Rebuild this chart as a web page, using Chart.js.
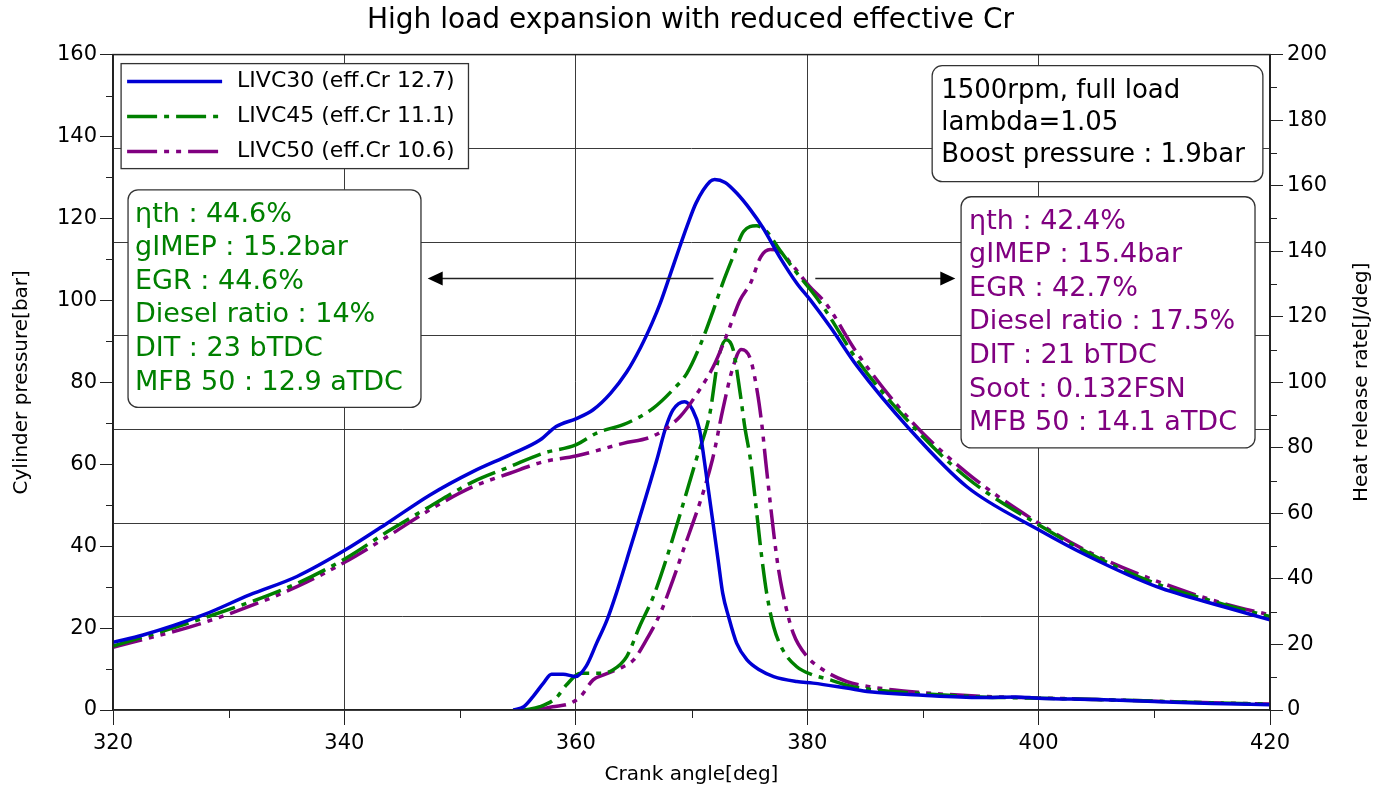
<!DOCTYPE html>
<html>
<head>
<meta charset="utf-8">
<title>High load expansion with reduced effective Cr</title>
<script src="https://cdn.jsdelivr.net/npm/chart.js@4.4.1/dist/chart.umd.min.js"></script>
<style>
    html, body { margin: 0; padding: 0; background: #fff; }
    canvas { display: block; }
</style>
</head>
<body>
<canvas id="chart" width="1381" height="791"></canvas>
<script>
// Cylinder pressure [bar] vs crank angle [deg]
var P30_DEG = [320, 322.6, 327.8, 331.8, 335.9, 340.1, 343.7, 347.4, 351.1, 354.3, 356.9, 358.3, 360.1, 361.5, 363, 364.4, 365.6, 366.6, 367.3, 368.1, 369, 369.6, 370.4, 371.6, 372, 372.9, 373.9, 375.1, 376.2, 377.6, 379.1, 380.3, 382, 384.3, 388.9, 393.8, 400, 404.4, 410.2, 416, 420];
var P30_BAR = [16.5, 18.3, 23.2, 28.1, 32.6, 39.1, 45.6, 52.5, 58.2, 62.3, 65.9, 69.2, 71.2, 73.3, 77.3, 82.5, 88.5, 94.5, 99.3, 105.8, 113.2, 118, 123.8, 129, 129.5, 128.8, 126.2, 122.1, 117.6, 110.7, 104.2, 100, 93.5, 84, 68.4, 54.5, 44, 37.4, 30.1, 25.2, 22];

var P45_DEG = [320, 327.8, 335.9, 340.1, 343.7, 347.4, 351.1, 354.3, 357.2, 360, 361.8, 364.4, 366.7, 368.4, 369.6, 370.7, 371.9, 372.7, 373.6, 374.5, 375.6, 376.5, 377.6, 379.1, 380.5, 381.6, 384.3, 388.9, 393.8, 400, 404.4, 410, 416, 420];
var P45_BAR = [15.6, 22.4, 30.9, 37, 43.5, 49.7, 55.7, 59.4, 62.7, 64.7, 67.6, 70, 73.7, 78.2, 82.2, 88.7, 97.7, 104.2, 110.7, 116.8, 118.2, 116.8, 112.4, 106.7, 101.8, 97.5, 85.5, 70, 56.7, 45.2, 38.2, 31, 25.8, 22.8];

var P50_DEG = [320, 327.8, 335.9, 340.1, 343.7, 347.4, 351.1, 354.3, 357.2, 360, 364.1, 366.7, 369, 370.7, 371.9, 373, 374.2, 375.1, 376, 376.8, 377.6, 378.8, 380.2, 381.6, 384.3, 388.9, 393.8, 400, 404.4, 410, 416, 420];
var P50_BAR = [15.3, 21.3, 30.1, 36.2, 42.3, 48.9, 54.5, 57.8, 60.6, 62, 65.1, 66.9, 71.6, 78.2, 83.9, 91.2, 100.1, 104.2, 110.7, 112.4, 112, 108.3, 103.4, 99.3, 87.2, 70.8, 57.9, 45.6, 38.5, 31.7, 26, 23.2];

// Heat release rate [J/deg] vs crank angle [deg]
var H30_DEG = [354.6, 355.5, 356.3, 357.2, 357.9, 358.9, 360, 360.9, 361.8, 362.7, 363.5, 364.4, 367, 367.8, 368.4, 369.4, 370.1, 370.7, 371.1, 372.3, 372.7, 373.2, 373.9, 374.8, 375.9, 377.1, 379.1, 380.5, 383.4, 385.4, 390, 395, 398, 400, 405, 410, 415, 420];
var H30_J   = [0, 1, 4.1, 8.2, 10.9, 10.9, 10.2, 13.4, 20.4, 27.5, 35.6, 45.8, 76.3, 86.5, 91.6, 94.1, 91.6, 85.5, 76.3, 45.8, 35.6, 28.5, 20.4, 15.3, 12.2, 10.2, 8.7, 8.2, 6.7, 5.6, 4.5, 3.8, 4, 3.6, 3.2, 2.6, 2, 1.6];

var H45_DEG = [355.5, 356.9, 358.3, 359.2, 360.4, 362.1, 363.2, 364.4, 365.5, 366.7, 367.8, 370.4, 371.6, 372.3, 373, 373.6, 374.2, 374.6, 375.1, 376.1, 376.5, 377.1, 377.9, 379.1, 380.5, 382, 383.4, 385.4, 390, 395, 400, 405, 410, 415, 420];
var H45_J   = [0, 1, 3.7, 7.7, 11.2, 11.2, 12.2, 16.3, 25.4, 34.6, 45.8, 76.3, 90.7, 106.9, 113, 110, 96.8, 86.5, 76.3, 45.8, 35.6, 25.4, 18.3, 13.2, 10.7, 9.2, 7.6, 6.3, 5, 4, 3.6, 3.2, 2.7, 2.2, 1.8];

var H50_DEG = [356.6, 358, 359.5, 360.4, 361.5, 362.4, 364.1, 365, 366.1, 367.3, 368.4, 369, 371.8, 372.7, 373.6, 374.3, 375.1, 375.7, 376.1, 376.4, 377.4, 377.9, 378.8, 380, 381.4, 383.4, 385.4, 390, 395, 400, 405, 410, 415, 420];
var H50_J   = [0, 1, 2, 4.1, 9.2, 10.7, 13.2, 15.3, 21.4, 29.5, 39.7, 45.8, 76.3, 91.6, 104.8, 110, 107, 96.8, 86.5, 76.3, 45.8, 35.6, 23.4, 16.3, 12.2, 8.7, 7.1, 5.3, 4.2, 3.7, 3.2, 2.7, 2.2, 1.8];

var SERIES_LABELS = ['LIVC30 (eff.Cr 12.7)', 'LIVC45 (eff.Cr 11.1)', 'LIVC50 (eff.Cr 10.6)'];

var INFO_LINES   = ['1500rpm, full load', 'lambda=1.05', 'Boost pressure : 1.9bar'];
var LIVC45_LINES = ['\u03b7th : 44.6%', 'gIMEP : 15.2bar', 'EGR : 44.6%', 'Diesel ratio : 14%', 'DIT : 23 bTDC', 'MFB 50 : 12.9 aTDC'];
var LIVC50_LINES = ['\u03b7th : 42.4%', 'gIMEP : 15.4bar', 'EGR : 42.7%', 'Diesel ratio : 17.5%', 'DIT : 21 bTDC', 'Soot : 0.132FSN', 'MFB 50 : 14.1 aTDC'];

var BLUE = '#0000d4', GREEN = '#008000', PURPLE = '#800080';
var GRID = '#3a3a3a', AXIS = '#222';
var FONT = 'DejaVu Sans';

Chart.defaults.font.family = FONT;
Chart.defaults.color = '#000';

function pts(xs, ys) {
    return xs.map(function (x, i) { return { x: x, y: ys[i] }; });
}

function line(label, xs, ys, axis, color, dash, inLegend) {
    return {
        label: label,
        data: pts(xs, ys),
        yAxisID: axis,
        borderColor: color,
        borderWidth: 3.5,
        borderDash: dash,
        pointRadius: 0,
        fill: false,
        cubicInterpolationMode: 'monotone',
        inLegend: inLegend
    };
}

var DASH_45 = [30, 7, 5, 7];
var DASH_50 = [30, 7, 5, 7, 5, 7];

// rounded box with text lines, anchored at a data position (top-left)
function textBox(ctx, x, y, lines, color, o) {
    ctx.font = o.size + 'px "' + FONT + '"';
    var w = 0;
    lines.forEach(function (t) { w = Math.max(w, ctx.measureText(t).width); });
    w += o.padL + o.padR;
    var h = lines.length * o.lineH + 2 * o.padY;
    var r = o.radius;
    ctx.beginPath();
    ctx.moveTo(x + r, y);
    ctx.lineTo(x + w - r, y);
    ctx.arcTo(x + w, y, x + w, y + r, r);
    ctx.lineTo(x + w, y + h - r);
    ctx.arcTo(x + w, y + h, x + w - r, y + h, r);
    ctx.lineTo(x + r, y + h);
    ctx.arcTo(x, y + h, x, y + h - r, r);
    ctx.lineTo(x, y + r);
    ctx.arcTo(x, y, x + r, y, r);
    ctx.closePath();
    ctx.fillStyle = '#fff';
    ctx.fill();
    ctx.strokeStyle = '#333';
    ctx.lineWidth = 1.3;
    ctx.setLineDash([]);
    ctx.stroke();
    ctx.fillStyle = color;
    ctx.textAlign = 'left';
    ctx.textBaseline = 'middle';
    lines.forEach(function (t, i) {
        ctx.fillText(t, x + o.padL, y + o.padY + o.lineH * (i + 0.5));
    });
}

function arrow(ctx, x0, x1, y) {
    var dir = x1 > x0 ? 1 : -1;
    ctx.strokeStyle = '#222';
    ctx.fillStyle = '#000';
    ctx.lineWidth = 1.5;
    ctx.setLineDash([]);
    ctx.beginPath();
    ctx.moveTo(x0, y);
    ctx.lineTo(x1 - dir * 14, y);
    ctx.stroke();
    ctx.beginPath();
    ctx.moveTo(x1, y);
    ctx.lineTo(x1 - dir * 15, y - 7);
    ctx.lineTo(x1 - dir * 15, y + 7);
    ctx.closePath();
    ctx.fill();
}

var decor = {
    id: 'decor',
    beforeDatasetsDraw: function (chart) {
        var ctx = chart.ctx, a = chart.chartArea, s = chart.scales;
        ctx.save();
        // horizontal grid: seven equal bands
        ctx.strokeStyle = GRID;
        ctx.lineWidth = 1;
        ctx.beginPath();
        for (var i = 1; i < 7; i++) {
            var gy = Math.round(a.top + (a.bottom - a.top) * i / 7) + 0.5;
            ctx.moveTo(a.left, gy);
            ctx.lineTo(a.right, gy);
        }
        ctx.stroke();
        // minor ticks
        ctx.strokeStyle = AXIS;
        ctx.beginPath();
        var v, p;
        for (v = 330; v < 420; v += 20) {
            p = Math.round(s.x.getPixelForValue(v)) + 0.5;
            ctx.moveTo(p, a.bottom);
            ctx.lineTo(p, a.bottom + 8);
        }
        for (v = 10; v < 160; v += 20) {
            p = Math.round(s.y.getPixelForValue(v)) + 0.5;
            ctx.moveTo(a.left, p);
            ctx.lineTo(a.left - 7, p);
        }
        for (v = 10; v < 200; v += 20) {
            p = Math.round(s.y1.getPixelForValue(v)) + 0.5;
            ctx.moveTo(a.right, p);
            ctx.lineTo(a.right + 7, p);
        }
        ctx.stroke();
        ctx.restore();
    },
    afterDatasetsDraw: function (chart) {
        var ctx = chart.ctx, a = chart.chartArea, s = chart.scales;
        ctx.save();
        // frame
        ctx.strokeStyle = AXIS;
        ctx.lineWidth = 1.5;
        ctx.setLineDash([]);
        ctx.strokeRect(a.left, a.top, a.right - a.left, a.bottom - a.top);

        // legend
        var lx = s.x.getPixelForValue(320.7), ly = s.y.getPixelForValue(157.8);
        var items = chart.data.datasets.filter(function (d) { return d.inLegend; });
        ctx.font = '22px "' + FONT + '"';
        var tw = 0;
        items.forEach(function (d) { tw = Math.max(tw, ctx.measureText(d.label).width); });
        var lw = 116 + tw + 14, lh = 105;
        ctx.fillStyle = '#fff';
        ctx.fillRect(lx, ly, lw, lh);
        ctx.strokeStyle = '#333';
        ctx.lineWidth = 1.3;
        ctx.strokeRect(lx, ly, lw, lh);
        items.forEach(function (d, i) {
            var ry = ly + 18 + i * 35;
            ctx.strokeStyle = d.borderColor;
            ctx.lineWidth = 3.5;
            ctx.setLineDash(d.borderDash);
            ctx.beginPath();
            ctx.moveTo(lx + 6, ry);
            ctx.lineTo(lx + 101, ry);
            ctx.stroke();
            ctx.setLineDash([]);
            ctx.fillStyle = '#000';
            ctx.textAlign = 'left';
            ctx.textBaseline = 'middle';
            ctx.fillText(d.label, lx + 116, ry);
        });

        // annotation boxes
        textBox(ctx, s.x.getPixelForValue(390.8), s.y.getPixelForValue(157.3), INFO_LINES, '#000',
            { size: 26, lineH: 32, padL: 9, padR: 18, padY: 10, radius: 10 });
        textBox(ctx, s.x.getPixelForValue(321.3), s.y.getPixelForValue(127), LIVC45_LINES, GREEN,
            { size: 27, lineH: 33.6, padL: 7, padR: 18, padY: 8, radius: 10 });
        textBox(ctx, s.x.getPixelForValue(393.3), s.y.getPixelForValue(125.3), LIVC50_LINES, PURPLE,
            { size: 27, lineH: 33.6, padL: 8, padR: 18, padY: 8, radius: 10 });

        // arrows
        var ay = Math.round(s.y.getPixelForValue(105.5)) + 0.5;
        arrow(ctx, s.x.getPixelForValue(371.9), s.x.getPixelForValue(347.2), ay);
        arrow(ctx, s.x.getPixelForValue(380.7), s.x.getPixelForValue(392.8), ay);

        // right axis title (reads bottom to top)
        ctx.save();
        ctx.translate(1362, (a.top + a.bottom) / 2);
        ctx.rotate(-Math.PI / 2);
        ctx.font = '20px "' + FONT + '"';
        ctx.fillStyle = '#000';
        ctx.textAlign = 'center';
        ctx.textBaseline = 'middle';
        ctx.fillText('Heat release rate[J/deg]', 0, 0);
        ctx.restore();

        ctx.restore();
    }
};

new Chart(document.getElementById('chart').getContext('2d'), {
    type: 'line',
    data: {
        datasets: [
            line(SERIES_LABELS[0], P30_DEG, P30_BAR, 'y', BLUE, [], true),
            line(SERIES_LABELS[1], P45_DEG, P45_BAR, 'y', GREEN, DASH_45, true),
            line(SERIES_LABELS[2], P50_DEG, P50_BAR, 'y', PURPLE, DASH_50, true),
            line('HRR ' + SERIES_LABELS[0], H30_DEG, H30_J, 'y1', BLUE, [], false),
            line('HRR ' + SERIES_LABELS[1], H45_DEG, H45_J, 'y1', GREEN, DASH_45, false),
            line('HRR ' + SERIES_LABELS[2], H50_DEG, H50_J, 'y1', PURPLE, DASH_50, false)
        ]
    },
    options: {
        responsive: false,
        animation: false,
        events: [],
        layout: { padding: 0 },
        plugins: {
            legend: { display: false },
            tooltip: { enabled: false },
            title: {
                display: true,
                text: 'High load expansion with reduced effective Cr',
                color: '#000',
                font: { size: 28, weight: 'normal' },
                padding: { top: 4, bottom: 17 }
            }
        },
        scales: {
            x: {
                type: 'linear',
                min: 320, max: 420,
                ticks: { stepSize: 20, font: { size: 21 }, color: '#000', padding: 6 },
                grid: { color: GRID, lineWidth: 1, tickLength: 15, tickColor: AXIS },
                border: { color: AXIS, width: 1.5 },
                title: { display: true, text: 'Crank angle[deg]', font: { size: 20 }, color: '#000', padding: { top: 0, bottom: 4 } },
                afterFit: function (sc) { sc.height = 81; }
            },
            y: {
                position: 'left',
                min: 0, max: 160,
                ticks: { stepSize: 20, font: { size: 21 }, color: '#000', padding: 3 },
                grid: { drawOnChartArea: false, tickLength: 13, color: AXIS },
                border: { color: AXIS, width: 1.5 },
                title: { display: true, text: 'Cylinder pressure[bar]', font: { size: 20 }, color: '#000', padding: { top: 10, bottom: 0 } },
                afterFit: function (sc) { sc.width = 113; }
            },
            y1: {
                position: 'right',
                min: 0, max: 200,
                ticks: { stepSize: 20, font: { size: 21 }, color: '#000', padding: 4 },
                grid: { drawOnChartArea: false, tickLength: 13, color: AXIS },
                border: { color: AXIS, width: 1.5 },
                afterFit: function (sc) { sc.width = 111; }
            }
        }
    },
    plugins: [decor]
});
</script>
</body>
</html>
